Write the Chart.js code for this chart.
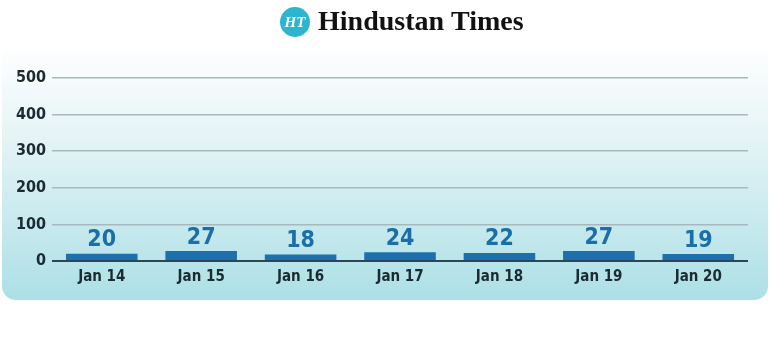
<!DOCTYPE html>
<html><head><meta charset="utf-8">
<script src="https://cdn.jsdelivr.net/npm/chart.js@4/dist/chart.umd.min.js"></script>
<style>html,body{margin:0;padding:0;background:#fff}#wrap{width:771px;height:351px;position:relative}</style>
</head><body><div id="wrap"><canvas id="c" width="771" height="351"></canvas></div>
<script>
const categories = ["Jan 14","Jan 15","Jan 16","Jan 17","Jan 18","Jan 19","Jan 20"];
const values = [20,27,18,24,22,27,19];
const yTicks = [0,100,200,300,400,500];
const titleText = "Hindustan Times";
const logoText = "HT";

const FONT = "'Liberation Sans Narrow','DejaVu Sans Condensed','Roboto',sans-serif";

const bgPlugin = {
  id:'bg',
  beforeDraw(chart){
    const ctx = chart.ctx;
    ctx.save();
    const x=2,y=45,w=766,h=255,r=14;
    const g = ctx.createLinearGradient(0,y,0,y+h);
    g.addColorStop(0,'#ffffff');
    g.addColorStop(0.35,'#e6f4f6');
    g.addColorStop(1,'#ace0e6');
    ctx.fillStyle=g;
    ctx.beginPath();
    ctx.roundRect(x,y,w,h,r);
    ctx.fill();
    // title
    ctx.fillStyle='#2bb5cf';
    ctx.beginPath(); ctx.arc(295,22,15,0,Math.PI*2); ctx.fill();
    ctx.fillStyle='#fff';
    ctx.font="italic bold 15px 'Liberation Serif',serif";
    ctx.textAlign='center'; ctx.textBaseline='middle';
    ctx.fillText(logoText,295,23);
    ctx.fillStyle='#111';
    ctx.font="bold 28px 'Liberation Serif','DejaVu Serif',serif";
    ctx.textAlign='left'; ctx.textBaseline='middle';
    ctx.fillText(titleText,318,23);
    ctx.restore();
  }
};
const labelPlugin = {
  id:'vals',
  afterDatasetsDraw(chart){
    const ctx=chart.ctx;
    const meta=chart.getDatasetMeta(0);
    ctx.save();
    ctx.fillStyle='#1a6fa8';
    ctx.font="bold 23px "+FONT;
    ctx.textAlign='center'; ctx.textBaseline='bottom';
    meta.data.forEach((bar,i)=>{
      ctx.fillText(String(values[i]),bar.x,bar.y-2);
    });
    ctx.restore();
  }
};

new Chart(document.getElementById('c'),{
  type:'bar',
  data:{labels:categories,datasets:[{data:values,backgroundColor:'#1d6fae',borderWidth:0,barPercentage:0.8,categoryPercentage:0.9}]},
  options:{
    responsive:false,animation:false,
    layout:{padding:{left:10,right:23,top:78,bottom:66}},
    plugins:{legend:{display:false},tooltip:{enabled:false}},
    scales:{
      x:{grid:{display:false},border:{display:false},
        ticks:{color:'#1b2a33',font:{family:FONT,size:15,weight:'bold'},padding:-1}},
      y:{min:0,max:500,afterBuildTicks(ax){ax.ticks=yTicks.map(v=>({value:v}));},
        grid:{color:(c)=>c.tick&&c.tick.value===0?'#2c4653':'#a6b9be',lineWidth:(c)=>c.tick&&c.tick.value===0?2:1.5,drawTicks:false},
        border:{display:false},
        ticks:{color:'#1b2a33',font:{family:FONT,size:16,weight:'bold'},padding:6}}
    }
  },
  plugins:[bgPlugin,labelPlugin]
});
</script></body></html>
